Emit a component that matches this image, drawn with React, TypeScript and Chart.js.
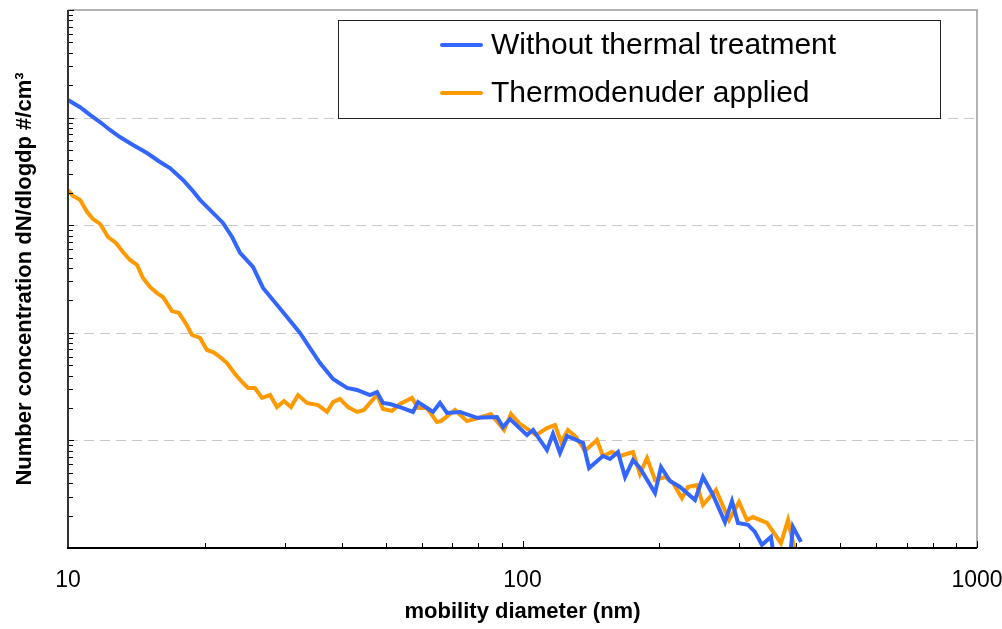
import React, { useEffect, useRef } from "react";
import { Chart, registerables } from "chart.js";

Chart.register(...registerables);

// ---- axis definitions ----
const xRange = [10, 1000];
const yRange = [1, 100000];
const xTickValues = [10, 100, 1000];
const xTickLabels = ["10", "100", "1000"];

const xTitle = "mobility diameter (nm)";
const yTitle = "Number concentration dN/dlogdp #/cm³";

const seriesNames = ["Without thermal treatment", "Thermodenuder applied"];
const seriesColors = ["#3366FF", "#FF9900"];

// ---- series: Without thermal treatment ----
const blueDiam = [
  10.0, 10.63, 11.18, 11.76, 12.37, 13.01, 13.9, 14.92, 15.94, 16.76, 17.91, 18.75, 19.52, 20.53, 21.93,
  22.96, 23.91, 25.53, 26.86, 28.25, 30.33, 32.39, 34.08, 35.85, 38.3, 41.11, 43.25, 46.18, 47.85, 49.32,
  51.1, 53.76, 57.42, 58.89, 61.64, 63.54, 65.83, 68.21, 72.86, 79.41, 87.89, 90.6, 93.87, 102.3, 105.5,
  113.2, 116.7, 120.9, 125.3, 135.9, 140.1, 150.3, 155.8, 162.2, 168.1, 175.0, 181.3, 195.7, 201.7, 211.1,
  222.1, 239.6, 249.5, 262.5, 278.9, 289.0, 297.9, 313.4, 324.7, 336.4, 352.1, 366.7, 379.9, 393.6, 410.0,
];
const blueConc = [
  14600, 12500, 10600, 9100, 7670, 6600, 5570, 4690, 3870, 3400, 2630, 2120, 1720, 1390, 1050,
  777, 552, 409, 261, 202, 140, 99.6, 72.2, 52.4, 37.2, 30.7, 29.4, 26.4, 28.2, 22.3,
  21.8, 20.4, 18.4, 22.7, 20.0, 18.4, 22.3, 18.0, 18.4, 16.2, 16.5, 13.3, 15.8, 11.2, 12.5,
  8.14, 11.5, 7.64, 11.0, 9.46, 5.54, 7.16, 6.72, 7.8, 4.57, 6.57, 5.54, 3.24, 5.66, 4.19,
  3.69, 2.79, 4.57, 3.11, 1.74, 2.73, 1.71, 1.64, 1.41, 1.07, 1.27, 0.407, 0.329, 1.57, 1.14,
];

// ---- series: Thermodenuder applied ----
const orangeDiam = [
  10.0, 10.26, 10.63, 11.01, 11.35, 11.76, 12.25, 12.75, 13.21, 13.69, 14.19, 14.62, 15.15, 15.7, 16.18,
  16.94, 17.54, 18.18, 18.75, 19.52, 20.22, 20.85, 21.6, 22.38, 23.31, 24.15, 24.89, 25.79, 26.72, 27.83,
  28.83, 29.87, 30.95, 32.07, 33.56, 35.49, 37.15, 38.3, 39.67, 41.31, 43.25, 44.8, 46.18, 47.85, 49.32,
  51.63, 53.76, 57.13, 58.89, 61.64, 64.84, 66.16, 71.04, 75.48, 80.22, 85.25, 91.05, 94.34, 98.24, 107.1,
  113.2, 117.9, 121.6, 125.9, 131.1, 137.2, 145.8, 150.3, 157.3, 163.9, 175.0, 181.3, 187.9, 195.7, 205.8,
  214.3, 224.3, 231.2, 242.1, 249.5, 266.5, 284.7, 299.5, 311.8, 321.4, 345.1, 370.4, 383.8, 401.7,
];
const orangeConc = [
  2120, 1870, 1720, 1330, 1140, 1030, 777, 683, 563, 475, 427, 323, 267, 234, 215,
  159, 153, 121, 95.4, 89.5, 69.2, 66.3, 59.6, 52.4, 41.4, 34.9, 30.7, 30.7, 24.8, 26.4,
  20.4, 23.2, 20.4, 26.4, 22.3, 21.3, 18.4, 22.7, 24.3, 20.4, 18.4, 19.2, 22.3, 26.4, 19.6,
  18.8, 21.8, 24.8, 20.0, 20.0, 14.8, 15.1, 19.2, 15.1, 16.2, 17.6, 12.5, 17.6, 14.5, 11.2,
  13.0, 13.9, 9.66, 12.5, 10.8, 7.97, 10.1, 7.16, 7.8, 7.16, 7.8, 4.87, 6.86, 4.29, 4.57,
  4.02, 2.91, 3.69, 3.85, 2.51, 3.46, 1.82, 2.68, 1.82, 1.94, 1.71, 1.11, 1.82, 0.774,
];

const FONT = '"Liberation Sans", Arial, Helvetica, sans-serif';

function logTickValues(min: number, max: number) {
  const out: { v: number; major: boolean }[] = [];
  for (let d = min; d < max; d *= 10) {
    for (let k = 1; k <= 9; k++) out.push({ v: k * d, major: k === 1 });
  }
  out.push({ v: max, major: true });
  return out;
}

const decorations = {
  id: "decorations",
  beforeDatasetsDraw(chart: any) {
    const { ctx, chartArea: a, scales } = chart;
    const y = scales.y;
    ctx.save();
    ctx.strokeStyle = "#c8c8c8";
    ctx.lineWidth = 1;
    ctx.setLineDash([10, 6]);
    for (const t of logTickValues(yRange[0], yRange[1])) {
      if (!t.major || t.v <= yRange[0] || t.v >= yRange[1]) continue;
      const py = Math.round(y.getPixelForValue(t.v)) + 0.5;
      ctx.beginPath();
      ctx.moveTo(a.left, py);
      ctx.lineTo(a.right, py);
      ctx.stroke();
    }
    ctx.setLineDash([]);
    ctx.strokeStyle = "#9a9a9a";
    ctx.lineWidth = 1.5;
    ctx.beginPath();
    ctx.moveTo(a.left, a.top);
    ctx.lineTo(a.right, a.top);
    ctx.lineTo(a.right, a.bottom);
    ctx.stroke();
    ctx.restore();
  },
  afterDatasetsDraw(chart: any) {
    const { ctx, chartArea: a, scales } = chart;
    const x = scales.x;
    const y = scales.y;
    ctx.save();
    ctx.strokeStyle = "#000";
    ctx.lineWidth = 1;
    for (const t of logTickValues(yRange[0], yRange[1])) {
      const py = Math.round(y.getPixelForValue(t.v)) + 0.5;
      ctx.beginPath();
      ctx.moveTo(a.left, py);
      ctx.lineTo(a.left + (t.major ? 6 : 5), py);
      ctx.stroke();
    }
    for (const t of logTickValues(xRange[0], xRange[1])) {
      const px = Math.round(x.getPixelForValue(t.v)) + 0.5;
      ctx.beginPath();
      ctx.moveTo(px, a.bottom);
      ctx.lineTo(px, a.bottom - (t.major ? 7 : 5));
      ctx.stroke();
    }
    ctx.strokeStyle = "#333";
    ctx.lineWidth = 2;
    ctx.beginPath();
    ctx.moveTo(a.left, a.top);
    ctx.lineTo(a.left, a.bottom);
    ctx.stroke();
    ctx.strokeStyle = "#000";
    ctx.beginPath();
    ctx.moveTo(a.left - 1, a.bottom);
    ctx.lineTo(a.right, a.bottom);
    ctx.stroke();
    ctx.restore();
  },
  afterDraw(chart: any) {
    const { ctx, chartArea: a } = chart;
    const bx = a.left + 270;
    const by = a.top + 10;
    const bw = 602;
    const bh = 98;
    ctx.save();
    ctx.fillStyle = "#fff";
    ctx.fillRect(bx, by, bw, bh);
    ctx.strokeStyle = "#222";
    ctx.lineWidth = 1;
    ctx.strokeRect(Math.round(bx) + 0.5, Math.round(by) + 0.5, bw, bh);
    ctx.font = `30px ${FONT}`;
    ctx.textBaseline = "middle";
    ctx.textAlign = "left";
    chart.data.datasets.forEach((ds: any, i: number) => {
      const cy = by + 25 + i * 48;
      ctx.strokeStyle = ds.borderColor;
      ctx.lineWidth = 4;
      ctx.lineCap = "round";
      ctx.beginPath();
      ctx.moveTo(bx + 104, cy);
      ctx.lineTo(bx + 143, cy);
      ctx.stroke();
      ctx.fillStyle = "#000";
      ctx.fillText(ds.label, bx + 153, cy + 1);
    });
    ctx.restore();
  },
};

export default function App() {
  const ref = useRef<HTMLCanvasElement>(null);
  useEffect(() => {
    const toPoints = (xs: number[], ys: number[]) => xs.map((d, i) => ({ x: d, y: ys[i] }));
    const chart = new Chart(ref.current as HTMLCanvasElement, {
      type: "line",
      data: {
        datasets: [
          {
            label: seriesNames[0],
            data: toPoints(blueDiam, blueConc),
            borderColor: seriesColors[0],
            backgroundColor: seriesColors[0],
            borderWidth: 4,
            pointRadius: 0,
            tension: 0,
            clip: { left: 2, top: 2, right: 2, bottom: 0 },
          },
          {
            label: seriesNames[1],
            data: toPoints(orangeDiam, orangeConc),
            borderColor: seriesColors[1],
            backgroundColor: seriesColors[1],
            borderWidth: 4,
            pointRadius: 0,
            tension: 0,
            clip: { left: 2, top: 2, right: 2, bottom: 0 },
          },
        ],
      },
      options: {
        animation: false,
        responsive: false,
        devicePixelRatio: 1,
        layout: { padding: { left: 0, right: 25, top: 10, bottom: 0 } },
        plugins: { legend: { display: false }, tooltip: { enabled: false } },
        scales: {
          x: {
            type: "logarithmic",
            position: "bottom",
            min: xRange[0],
            max: xRange[1],
            afterBuildTicks: (s: any) => {
              s.ticks = xTickValues.map((v) => ({ value: v }));
            },
            afterFit: (s: any) => {
              s.height = 81;
              s.paddingLeft = 0;
              s.paddingRight = 0;
            },
            grid: { display: false },
            border: { display: false },
            ticks: {
              autoSkip: false,
              maxRotation: 0,
              padding: 11,
              color: "#000",
              font: { family: FONT, size: 23 },
              callback: (v: any) => {
                const i = xTickValues.indexOf(Number(v));
                return i >= 0 ? xTickLabels[i] : "";
              },
            },
            title: {
              display: true,
              text: xTitle,
              color: "#000",
              font: { family: FONT, size: 22, weight: "bold" },
              padding: { top: 0, bottom: 4 },
            },
          },
          y: {
            type: "logarithmic",
            position: "left",
            min: yRange[0],
            max: yRange[1],
            afterFit: (s: any) => {
              s.width = 68;
            },
            grid: { display: false },
            border: { display: false },
            ticks: { display: false },
            title: {
              display: true,
              text: yTitle,
              color: "#000",
              font: { family: FONT, size: 22, weight: "bold" },
              padding: { top: 12, bottom: 0 },
            },
          },
        },
      } as any,
      plugins: [decorations],
    });
    return () => chart.destroy();
  }, []);
  return (
    <div style={{ position: "fixed", left: 0, top: 0, width: 1002, height: 629, background: "#fff" }}>
      <canvas ref={ref} width={1002} height={629} style={{ display: "block", width: 1002, height: 629 }} />
    </div>
  );
}
